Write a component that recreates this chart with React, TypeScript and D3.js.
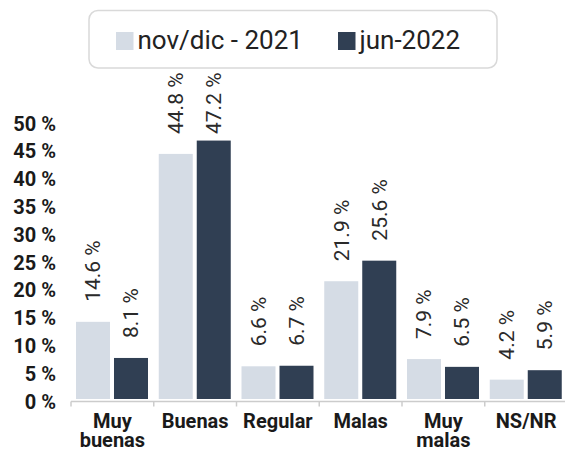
import React from "react";
import * as d3 from "d3";

const categories = [["Muy", "buenas"], ["Buenas"], ["Regular"], ["Malas"], ["Muy", "malas"], ["NS/NR"]];
const seriesNames = ["nov/dic - 2021", "jun-2022"];
const series2021 = [14.6, 44.8, 6.6, 21.9, 7.9, 4.2];
const series2022 = [8.1, 47.2, 6.7, 25.6, 6.5, 5.9];
const yTicks = [0, 5, 10, 15, 20, 25, 30, 35, 40, 45, 50];
const colors = ["#d5dce5", "#303f53"];

const W = 565;
const H = 450;

export default function App() {
  const keys = categories.map((c) => c.join(" "));
  const x = d3.scaleBand<string>().domain(keys).range([71, 567.5]).padding(0);
  const inner = d3
    .scaleBand<string>()
    .domain(["0", "1"])
    .range([5, 77])
    .paddingInner(0.105)
    .paddingOuter(0);
  const y = d3.scaleLinear().domain([0, 50]).range([403, 125]);
  const axisY = 401.5;
  const labelTopLimit = 134;
  const allSeries = [series2021, series2022];
  const font = "Roboto, 'Noto Sans', sans-serif";

  return (
    <svg width={W} height={H} style={{ position: "absolute", left: 0, top: 0, display: "block" }}>
      <rect x={0} y={0} width={W} height={H} fill="#ffffff" />
      {/* legend */}
      <g>
        <rect x={89} y={10.5} width={408} height={57.5} rx={9} ry={9} fill="#ffffff" stroke="#d9d9d9" strokeWidth={1.5} />
        {seriesNames.map((name, i) => {
          const lx = i === 0 ? 116 : 338;
          return (
            <g key={name}>
              <rect x={lx} y={32} width={17.5} height={18} fill={colors[i]} />
              <text x={lx + 21.5} y={48.5} fontFamily={font} fontSize={26} fill="#222222">
                {name}
              </text>
            </g>
          );
        })}
      </g>
      {/* y tick labels */}
      {yTicks.map((t) => (
        <text
          key={t}
          x={56}
          y={y(t) - 1.5}
          dy="0.35em"
          textAnchor="end"
          fontFamily={font}
          fontWeight={700}
          fontSize={20}
          fill="#1a1a1a"
        >
          {`${t} %`}
        </text>
      ))}
      {/* bars */}
      {keys.map((k, ci) => (
        <g key={k} transform={`translate(${x(k)},0)`}>
          {allSeries.map((s, si) => {
            const v = s[ci];
            const bx = inner(String(si)) as number;
            const bw = inner.bandwidth();
            const top = y(v);
            return (
              <rect key={si} x={bx} y={top} width={bw} height={Math.max(0, axisY - 2.5 - top)} fill={colors[si]} />
            );
          })}
        </g>
      ))}
      {/* value labels */}
      {keys.map((k, ci) =>
        allSeries.map((s, si) => {
          const v = s[ci];
          const cx = (x(k) as number) + (inner(String(si)) as number) + inner.bandwidth() / 2;
          const ly = Math.max(y(v) - 20, labelTopLimit);
          return (
            <text
              key={`${k}-${si}`}
              transform={`translate(${cx},${ly}) rotate(-90)`}
              dy="0.35em"
              textAnchor="start"
              fontFamily={font}
              fontSize={21}
              fill="#2a2a2a"
            >
              {`${v.toFixed(1)} %`}
            </text>
          );
        })
      )}
      {/* x axis */}
      <line x1={x.range()[0]} x2={x.range()[1]} y1={axisY} y2={axisY} stroke="#cccccc" strokeWidth={1.5} />
      {keys.map((k) => (
        <line key={k} x1={x(k)} x2={x(k)} y1={axisY} y2={axisY + 5} stroke="#cccccc" strokeWidth={1.5} />
      ))}
      {keys.map((k, ci) => {
        const cx = (x(k) as number) + x.bandwidth() / 2;
        return (
          <text key={k} x={cx} y={428} textAnchor="middle" fontFamily={font} fontWeight={700} fontSize={20} fill="#1a1a1a">
            {categories[ci].map((line, li) => (
              <tspan key={li} x={cx} dy={li === 0 ? 0 : 19}>
                {line}
              </tspan>
            ))}
          </text>
        );
      })}
    </svg>
  );
}
